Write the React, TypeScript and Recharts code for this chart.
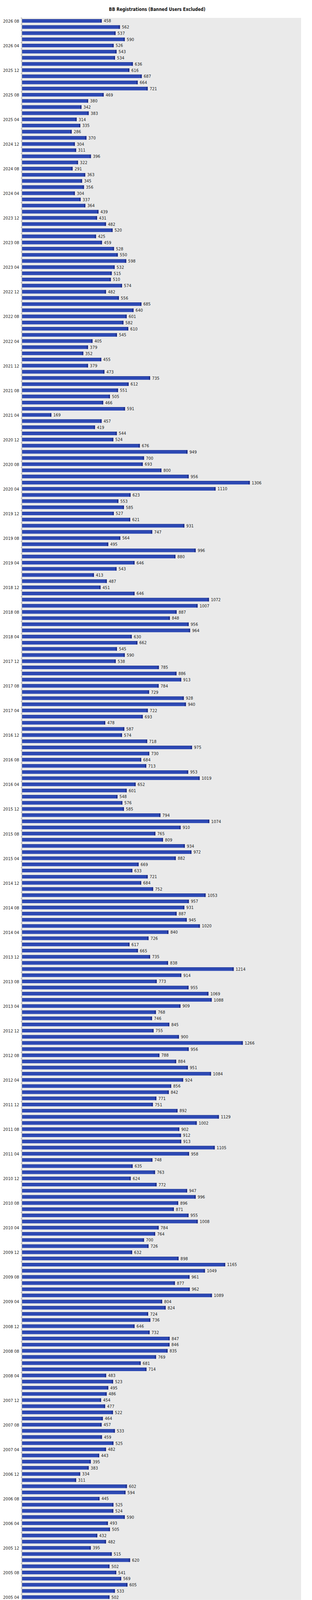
import { BarChart, Bar, XAxis, YAxis, LabelList } from "recharts";

// monthly registrations, January first (1998 starts in April, 2026 ends in August)
const v1998 = [2, 0, 0, 0, 1, 0, 4, 21, 18];
const v1999 = [15, 8, 10, 16, 14, 13, 16, 27, 13, 38, 51, 32];
const v2000 = [48, 14, 17, 66, 49, 38, 72, 44, 57, 86, 80, 92];
const v2001 = [75, 113, 175, 181, 255, 210, 204, 290, 268, 365, 317, 265];
const v2002 = [265, 265, 346, 314, 358, 397, 429, 355, 394, 457, 383, 335];
const v2003 = [443, 272, 432, 395, 377, 391, 386, 420, 386, 375, 240, 256];
const v2004 = [354, 419, 359, 401, 485, 466, 513, 507, 607, 630, 557, 489];
const v2005 = [543, 478, 550, 502, 533, 605, 569, 541, 502, 620, 515, 395];
const v2006 = [482, 432, 505, 493, 590, 524, 525, 445, 594, 602, 311, 334];
const v2007 = [383, 395, 443, 482, 525, 459, 533, 457, 464, 522, 477, 454];
const v2008 = [486, 495, 523, 483, 714, 681, 769, 835, 846, 847, 732, 646];
const v2009 = [736, 724, 824, 804, 1089, 962, 877, 961, 1049, 1165, 898, 632];
const v2010 = [726, 700, 764, 784, 1008, 955, 871, 896, 996, 947, 772, 624];
const v2011 = [763, 635, 748, 958, 1105, 913, 912, 902, 1002, 1129, 892, 751];
const v2012 = [771, 842, 856, 924, 1084, 951, 884, 788, 956, 1266, 900, 755];
const v2013 = [845, 746, 768, 909, 1088, 1069, 955, 773, 914, 1214, 838, 735];
const v2014 = [665, 617, 726, 840, 1020, 945, 887, 931, 957, 1053, 752, 684];
const v2015 = [721, 633, 669, 882, 972, 934, 809, 765, 910, 1074, 794, 585];
const v2016 = [576, 548, 601, 652, 1019, 953, 713, 684, 730, 975, 718, 574];
const v2017 = [587, 478, 693, 722, 940, 928, 729, 784, 913, 886, 785, 538];
const v2018 = [590, 545, 662, 630, 964, 956, 848, 887, 1007, 1072, 646, 451];
const v2019 = [487, 413, 543, 646, 880, 996, 495, 564, 747, 931, 621, 527];
const v2020 = [585, 553, 623, 1110, 1306, 956, 800, 693, 700, 949, 676, 524];
const v2021 = [544, 419, 457, 169, 591, 466, 505, 551, 612, 735, 473, 379];
const v2022 = [455, 352, 379, 405, 545, 610, 582, 601, 640, 685, 556, 482];
const v2023 = [574, 510, 515, 532, 598, 550, 528, 459, 425, 520, 482, 431];
const v2024 = [439, 364, 337, 304, 356, 345, 363, 291, 322, 396, 311, 304];
const v2025 = [370, 286, 335, 314, 383, 342, 380, 469, 721, 664, 687, 616];
const v2026 = [636, 534, 543, 526, 590, 537, 562, 458];

const years: [number, number, number[]][] = [
  [1998, 4, v1998], [1999, 1, v1999], [2000, 1, v2000], [2001, 1, v2001],
  [2002, 1, v2002], [2003, 1, v2003], [2004, 1, v2004], [2005, 1, v2005],
  [2006, 1, v2006], [2007, 1, v2007], [2008, 1, v2008], [2009, 1, v2009],
  [2010, 1, v2010], [2011, 1, v2011], [2012, 1, v2012], [2013, 1, v2013],
  [2014, 1, v2014], [2015, 1, v2015], [2016, 1, v2016], [2017, 1, v2017],
  [2018, 1, v2018], [2019, 1, v2019], [2020, 1, v2020], [2021, 1, v2021],
  [2022, 1, v2022], [2023, 1, v2023], [2024, 1, v2024], [2025, 1, v2025],
  [2026, 1, v2026],
];

const xTicks = [0, 400, 800, 1200, 1600];

const rows: { month: string; value: number }[] = [];
years.forEach(([year, first, vals]) => {
  vals.forEach((value, i) => {
    const m = String(first + i).padStart(2, "0");
    rows.push({ month: `${year} ${m}`, value });
  });
});
const data = rows.reverse(); // newest at the top

const W = 800;
const H = 5456;
const TOP = 46;
const BOTTOM = 35;
const LEFT = 56;
const RIGHT = 28;
const PITCH = (H - TOP - BOTTOM) / data.length;

const BarShape = (props: any) => {
  const { x, y, width, height } = props;
  const w = Math.max(width, 1.5);
  const cap = Math.min(3, w);
  return (
    <g>
      <rect x={x} y={y} width={w} height={height} fill="#2d49b4" />
      <rect x={x} y={y} width={w} height={1} fill="#213793" />
      <rect x={x + w - cap} y={y} width={cap} height={height} fill="#1c2b85" />
    </g>
  );
};

const YTick = (props: any) => {
  const { x, y, payload, index } = props;
  return (
    <g>
      <line x1={x + 4} x2={x + 7} y1={y - PITCH / 2} y2={y - PITCH / 2} stroke="#aaa" strokeWidth={1.5} />
      {index % 4 === 0 && (
        <text x={x} y={y} dy={4} textAnchor="end" fontSize={11} fill="#222">
          {payload.value}
        </text>
      )}
    </g>
  );
};

export default function App() {
  return (
    <div
      style={{
        position: "relative",
        margin: "-8px 0 0 -8px",
        width: W,
        height: H,
        background: "#fff",
        fontFamily: "'DejaVu Sans Condensed', 'Liberation Sans', sans-serif",
      }}
    >
      <div
        style={{
          position: "absolute",
          left: 3,
          top: 17,
          width: W,
          textAlign: "center",
          fontWeight: "bold",
          fontSize: 11.5,
          color: "#111",
        }}
      >
        BB Registrations (Banned Users Excluded)
      </div>
      <div
        style={{
          position: "absolute",
          left: LEFT,
          top: TOP,
          width: W - LEFT - RIGHT,
          height: H - TOP - BOTTOM,
          background: "repeating-linear-gradient(to bottom, #e1e1e1 0px, #e1e1e1 1px, #f3f3f3 1px, #f3f3f3 2px)",
        }}
      />
      <div style={{ position: "absolute", left: 0, top: 0 }}>
        <BarChart
          width={W}
          height={H}
          data={data}
          layout="vertical"
          margin={{ top: TOP, right: RIGHT, bottom: 0, left: 0 }}
          barSize={9}
        >
          <XAxis
            type="number"
            domain={[0, 1600]}
            ticks={xTicks}
            height={BOTTOM}
            tickSize={3}
            tick={{ fontSize: 11, fill: "#222" }}
            axisLine={{ stroke: "#b8b8b8", strokeWidth: 2 }}
            tickLine={{ stroke: "#999" }}
          />
          <YAxis
            type="category"
            dataKey="month"
            width={LEFT}
            interval={0}
            tickSize={0}
            tickMargin={7}
            tick={<YTick />}
            axisLine={{ stroke: "#aaa", strokeWidth: 1.5 }}
          />
          <Bar dataKey="value" shape={<BarShape />} minPointSize={2} isAnimationActive={false}>
            <LabelList dataKey="value" position="right" offset={5} fontSize={11} fill="#222" />
          </Bar>
        </BarChart>
      </div>
    </div>
  );
}
